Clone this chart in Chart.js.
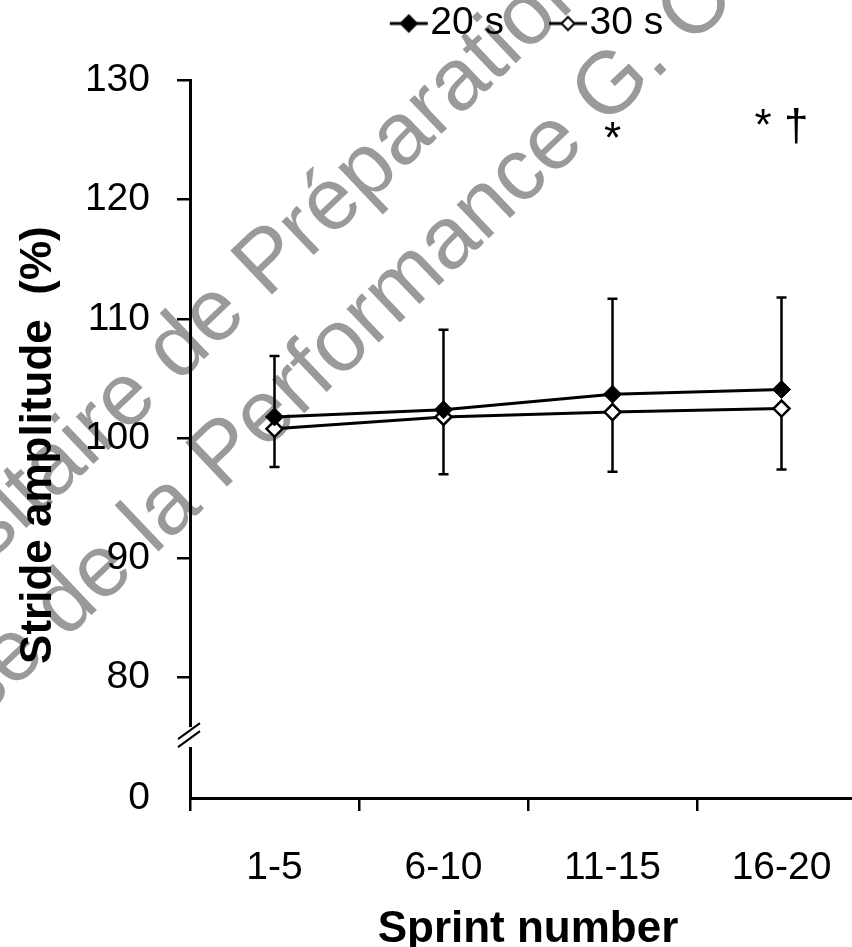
<!DOCTYPE html>
<html>
<head>
<meta charset="utf-8">
<script src="https://cdn.jsdelivr.net/npm/chart.js@4"></script>
<style>
  body { margin: 0; background: #fff; overflow: hidden; }
  #wrap { width: 852px; height: 947px; overflow: hidden; }
</style>
</head>
<body>
<div id="wrap"><canvas id="strideChart" width="880" height="947"></canvas></div>
<script>
// Data
const sprintBlocks = ['1-5', '6-10', '11-15', '16-20'];
const mean20 = [101.8, 102.4, 103.7, 104.1];
const sd20 = [5.1, 6.7, 8.0, 7.7];
const mean30 = [100.8, 101.8, 102.2, 102.5];
const sd30 = [3.2, 4.8, 5.0, 5.1];
const yTickValues = [69.9, 80, 90, 100, 110, 120, 130]; // 69.9 is where the "0" sits under the axis break
const yTickLabels = ['0', '80', '90', '100', '110', '120', '130'];
const sigText = ['', '', '*', '* \u2020'];
const sigLevel = [null, null, 123.85, 125.0];

Chart.defaults.font.family = '"Liberation Sans", Arial, sans-serif';
Chart.defaults.color = '#000';

// line + diamond image for the legend
function legendMarker(filled) {
    const c = document.createElement('canvas');
    c.width = 80; c.height = 24;
    const g = c.getContext('2d');
    g.strokeStyle = '#000';
    g.lineWidth = 3;
    g.beginPath(); g.moveTo(28, 12); g.lineTo(66, 12); g.stroke();
    const r = filled ? 8 : 6.5;
    g.beginPath();
    g.moveTo(47 - r, 12); g.lineTo(47, 12 - r); g.lineTo(47 + r, 12); g.lineTo(47, 12 + r); g.closePath();
    g.fillStyle = filled ? '#000' : '#fff';
    g.fill();
    g.lineWidth = 2;
    g.stroke();
    return c;
}
const markers = [legendMarker(true), legendMarker(false)];

function watermarkLine(c, text, word, ax, ay, ang) {
    const pre = c.measureText(text.slice(0, text.indexOf(word))).width;
    c.save();
    c.translate(ax, ay);
    c.rotate(ang);
    c.fillText(text, -pre, 0);
    c.restore();
}

const watermark = {
    id: 'watermark',
    beforeDraw(chart) {
        const c = chart.ctx;
        c.save();
        c.fillStyle = '#9a9a9a';
        c.font = '88px "Liberation Sans", Arial, sans-serif';
        const ang = -43.5 * Math.PI / 180;
        watermarkLine(c, 'Universitaire de Préparation G. C', 'Préparation', 250, 282, ang);
        watermarkLine(c, 'Analyse de la Performance G. C', 'Performance', 205, 474, ang);
        c.restore();
    }
};

// keep room between legend and plot
const legendSpace = {
    id: 'legendSpace',
    afterInit(chart) {
        const fit = chart.legend.fit;
        chart.legend.fit = function () {
            fit.call(this);
            this.height = 124;
        };
    }
};

const errorBars = {
    id: 'errorBars',
    beforeDatasetsDraw(chart) {
        const { ctx, scales: { x, y } } = chart;
        ctx.save();
        ctx.strokeStyle = '#000';
        ctx.lineWidth = 2.5;
        const bar = (px, y0, y1) => {
            ctx.beginPath();
            ctx.moveTo(px, y0); ctx.lineTo(px, y1);
            ctx.moveTo(px - 5, y1); ctx.lineTo(px + 5, y1);
            ctx.stroke();
        };
        sprintBlocks.forEach((b, i) => {
            const px = x.getPixelForValue(i);
            bar(px, y.getPixelForValue(mean20[i]), y.getPixelForValue(mean20[i] + sd20[i]));
            bar(px, y.getPixelForValue(mean30[i]), y.getPixelForValue(mean30[i] - sd30[i]));
        });
        ctx.restore();
    }
};

const extras = {
    id: 'extras',
    afterDraw(chart) {
        const { ctx, scales: { x, y }, chartArea } = chart;
        ctx.save();
        // significance marks
        ctx.fillStyle = '#000';
        ctx.font = '44px "Liberation Sans", Arial, sans-serif';
        ctx.textAlign = 'center';
        ctx.textBaseline = 'alphabetic';
        sigText.forEach((t, i) => {
            if (t) ctx.fillText(t, x.getPixelForValue(i), y.getPixelForValue(sigLevel[i]));
        });
        // axis break
        const ax = chartArea.left;
        const yb = y.getPixelForValue(75);
        ctx.fillStyle = '#fff';
        ctx.fillRect(ax - 4, yb - 10, 8, 20);
        ctx.strokeStyle = '#000';
        ctx.lineWidth = 2;
        ctx.beginPath();
        ctx.moveTo(ax - 12, yb + 2); ctx.lineTo(ax + 10, yb - 14);
        ctx.moveTo(ax - 12, yb + 10); ctx.lineTo(ax + 10, yb - 6);
        ctx.stroke();
        ctx.restore();
    }
};

const ctx = document.getElementById('strideChart').getContext('2d');

const strideChart = new Chart(ctx, {
    type: 'line',
    data: {
        labels: sprintBlocks,
        datasets: [
            {
                label: '20 s',
                data: mean20,
                borderColor: '#000',
                borderWidth: 3,
                pointStyle: 'rectRot',
                pointRadius: 9,
                pointBackgroundColor: '#000',
                pointBorderColor: '#000',
                pointBorderWidth: 1
            },
            {
                label: '30 s',
                data: mean30,
                borderColor: '#000',
                borderWidth: 3,
                pointStyle: 'rectRot',
                pointRadius: 8,
                pointBackgroundColor: '#fff',
                pointBorderColor: '#000',
                pointBorderWidth: 2.5
            }
        ]
    },
    options: {
        responsive: false,
        animation: false,
        devicePixelRatio: 1,
        layout: { padding: { top: -44, right: 14, bottom: 0, left: 0 } },
        plugins: {
            tooltip: { enabled: false },
            legend: {
                position: 'top',
                fullSize: false,
                labels: {
                    font: { size: 39 },
                    color: '#000',
                    usePointStyle: true,
                    pointStyleWidth: 18,
                    padding: 48,
                    generateLabels(chart) {
                        return Chart.defaults.plugins.legend.labels.generateLabels(chart).map((item, i) => {
                            item.pointStyle = markers[i];
                            return item;
                        });
                    }
                }
            }
        },
        scales: {
            x: {
                type: 'category',
                offset: true,
                afterFit(scale) { scale.height = 149; },
                grid: { offset: true, drawOnChartArea: false, tickLength: 13, color: '#000', lineWidth: 2.5 },
                border: { color: '#000', width: 3 },
                ticks: { font: { size: 39 }, color: '#000', padding: 34 },
                title: {
                    display: true,
                    text: 'Sprint number',
                    font: { size: 44, weight: 'bold' },
                    color: '#000',
                    padding: { top: 0, bottom: -9 }
                }
            },
            y: {
                min: 69.9,
                max: 130,
                afterFit(scale) { scale.width = 190; },
                afterBuildTicks(scale) {
                    scale.ticks = yTickValues.map(v => ({ value: v }));
                },
                grid: {
                    drawOnChartArea: false,
                    tickLength: 13,
                    lineWidth: 2.5,
                    color: (c) => (c.tick && c.tick.value < 75 ? 'rgba(0,0,0,0)' : '#000')
                },
                border: { color: '#000', width: 3 },
                ticks: {
                    font: { size: 39 },
                    color: '#000',
                    padding: 27,
                    callback: (value, index) => yTickLabels[index]
                },
                title: {
                    display: true,
                    text: 'Stride amplitude  (%) ',
                    font: { size: 44, weight: 'bold' },
                    color: '#000',
                    padding: { top: 12, bottom: 0 }
                }
            }
        }
    },
    plugins: [watermark, legendSpace, errorBars, extras]
});
</script>
</body>
</html>
